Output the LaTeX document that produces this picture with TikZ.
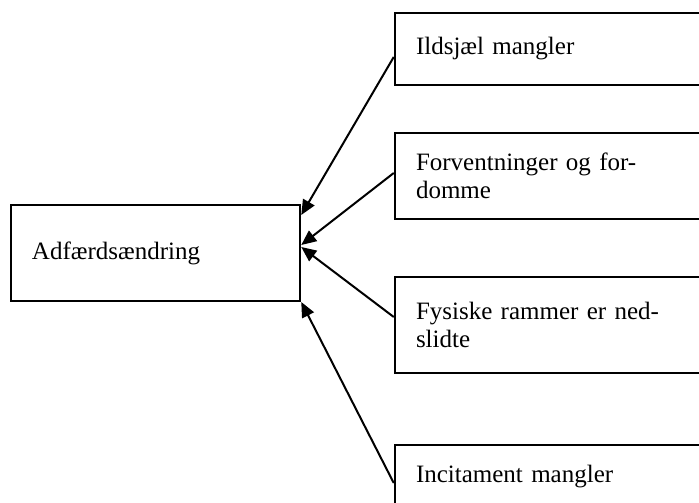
\documentclass[tikz,border=0pt]{standalone}
\usepackage{fontspec}
\setmainfont{Liberation Serif}
\usetikzlibrary{arrows.meta,positioning,calc}

\begin{document}
\begin{tikzpicture}[x=0.5pt,y=-0.5pt,
  boks/.style={draw,line width=1.25pt,rectangle,align=left,inner xsep=10.5pt,inner ysep=0pt,font=\fontsize{12.5}{14}\selectfont},
  pil/.style={-{Triangle[length=7.5pt,width=6.5pt]},line width=1pt}]
  \useasboundingbox (0,0) rectangle (699,502);
  % Left box
  \node[boks,text width=123.5pt,minimum height=48pt] (adfaerd) at (155.5,253) {Adfærdsændring};
  % Causes
  \foreach \navn/\ymid/\hoejde/\tekst in {ildsjael/49/36/{Ildsjæl mangler}, forvent/176/43/{Forventninger og for-\\domme}, fysisk/325/48/{Fysiske rammer er ned-\\slidte}, incitament/477/32/{Incitament mangler}} {
    \node[boks,text width=134.5pt,minimum height=\hoejde pt] (\navn) at (550.5,\ymid) {\tekst};
  }
  % Arrows
  \foreach \fra/\dy/\til in {ildsjael/8/-38, forvent/-3/-8, fysisk/-8/-6, incitament/6/49} {
    \draw[pil] ($(\fra.west)+(0,\dy)$) -- ($(adfaerd.east)+(0,\til)$);
  }
\end{tikzpicture}
\end{document}
